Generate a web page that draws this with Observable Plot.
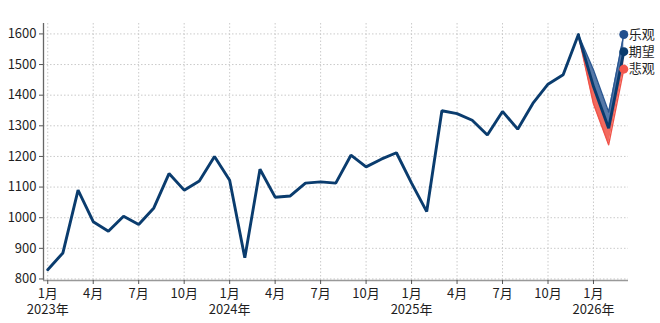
<!DOCTYPE html>
<html><head><meta charset="utf-8">
<script src="https://cdn.jsdelivr.net/npm/d3@7"></script>
<script src="https://cdn.jsdelivr.net/npm/@observablehq/plot@0.6"></script>
<style>
html,body{margin:0;padding:0;background:#fff;}
#chart svg{display:block;}
</style></head><body><div id="chart"></div>
<script>
const historyMonths = [
  "2023-01","2023-02","2023-03","2023-04","2023-05","2023-06","2023-07","2023-08","2023-09","2023-10","2023-11","2023-12",
  "2024-01","2024-02","2024-03","2024-04","2024-05","2024-06","2024-07","2024-08","2024-09","2024-10","2024-11","2024-12",
  "2025-01","2025-02","2025-03","2025-04","2025-05","2025-06","2025-07","2025-08","2025-09","2025-10","2025-11","2025-12"
];
const historyValues = [
  830, 885, 1090, 987, 956, 1005, 978, 1032, 1144, 1090, 1120, 1200,
  1122, 869, 1158, 1067, 1071, 1113, 1117, 1113, 1204, 1166, 1191, 1212,
  1113, 1020, 1349, 1340, 1318, 1270, 1347, 1289, 1373, 1436, 1467, 1597
];
const forecastMonths = ["2025-12","2026-01","2026-02","2026-03"];
const optimistic  = [1597, 1482, 1345, 1598];
const expected    = [1597, 1428, 1292, 1542];
const pessimistic = [1597, 1372, 1238, 1485];
const scenarioLabels = ["乐观","期望","悲观"];
const yTicks = [800,900,1000,1100,1200,1300,1400,1500,1600];
const tickMonths = ["2023-01","2023-04","2023-07","2023-10","2024-01","2024-04","2024-07","2024-10","2025-01","2025-04","2025-07","2025-10","2026-01"];

const idx = m => { const [y, mo] = m.split("-").map(Number); return (y - 2023) * 12 + mo - 1; };
const hist = historyMonths.map((m, i) => ({x: idx(m), y: historyValues[i]}));
const fc = forecastMonths.map((m, i) => ({x: idx(m), opt: optimistic[i], exp: expected[i], pes: pessimistic[i]}));
const last = forecastMonths.length - 1;
const lastX = idx(forecastMonths[last]);
const ends = [
  {label: scenarioLabels[0], y: optimistic[last], color: "#22508e"},
  {label: scenarioLabels[1], y: expected[last], color: "#0a3c6e"},
  {label: scenarioLabels[2], y: pessimistic[last], color: "#f2564b"}
];
const tickIdx = tickMonths.map(idx);
const tickLabel = i => {
  const m = (i % 12) + 1, y = 2023 + Math.floor(i / 12);
  return m === 1 ? `${m}月\n${y}年` : `${m}月`;
};
const xMin = -0.28, xMax = 38.31, yMin = 795, yMax = 1634;
const font = '"Noto Sans CJK SC","Noto Sans",sans-serif';
const gridStyle = {stroke: "#c4c4c4", strokeWidth: 0.9, strokeDasharray: "1.5,2"};

const chart = Plot.plot({
  width: 660, height: 323,
  marginLeft: 43, marginRight: 32, marginTop: 23, marginBottom: 43,
  style: {fontFamily: font, fontSize: "13px", color: "#1e1e1e", background: "#fff", overflow: "visible"},
  x: {type: "linear", domain: [xMin, xMax]},
  y: {domain: [yMin, yMax]},
  marks: [
    Plot.ruleY(yTicks, gridStyle),
    Plot.ruleX(tickIdx, gridStyle),
    Plot.areaY(fc, {x: "x", y1: "exp", y2: "opt", fill: "#5679a9"}),
    Plot.areaY(fc, {x: "x", y1: "pes", y2: "exp", fill: "#f26a5e"}),
    Plot.line(fc, {x: "x", y: "opt", stroke: "#2a5792", strokeWidth: 1.4}),
    Plot.line(fc, {x: "x", y: "pes", stroke: "#f0544a", strokeWidth: 1.4}),
    Plot.line(hist, {x: "x", y: "y", stroke: "#0a3c6e", strokeWidth: 2.9, strokeLinejoin: "miter"}),
    Plot.line(fc, {x: "x", y: "exp", stroke: "#0a3c6e", strokeWidth: 2.9, strokeLinejoin: "miter"}),
    Plot.ruleX([xMin], {stroke: "#666", strokeWidth: 1.3}),
    Plot.ruleY([yMin], {stroke: "#999", strokeWidth: 1.6}),
    Plot.axisY(yTicks, {tickSize: 4, tickPadding: 3, label: null, stroke: "#555", fill: "#1e1e1e",
      tickFormat: d => String(d)}),
    Plot.axisX(tickIdx, {tickSize: 4, tickPadding: 1, label: null, stroke: "#555", fill: "#1e1e1e",
      lineHeight: 1.3, tickFormat: tickLabel}),
    Plot.dot(ends, {x: () => lastX, y: "y", fill: "color", r: 4.5}),
    Plot.text(ends, {x: () => lastX, y: "y", text: "label", dx: 5, textAnchor: "start", fontSize: 13, fill: "#1e1e1e"})
  ]
});
document.getElementById("chart").append(chart);
</script>
</body></html>
